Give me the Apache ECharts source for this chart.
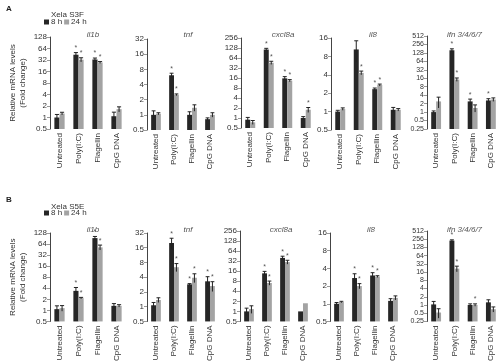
<!DOCTYPE html>
<html><head><meta charset="utf-8">
<script src="https://cdn.jsdelivr.net/npm/echarts@6/dist/echarts.min.js"></script>
<style>html,body{margin:0;padding:0;background:#fff}#c{width:500px;height:364px}</style>
</head><body><div id="c"></div>
<script>
// ---------- DATA ----------
const categories = ['Untreated', 'Poly(I:C)', 'Flagellin', 'CpG DNA'];
const genes = ['il1b', 'tnf', 'cxcl8a', 'il8', 'ifn 3/4/6/7'];
const yMin = [0.5, 0.5, 0.5, 0.5, 0.25];
const yMax = [128, 32, 256, 16, 512];
const seriesNames = ['8 h', '24 h'];
const rowTitles = ['Xela S3F', 'Xela S5E'];
const rowLetters = ['A', 'B'];

// Row A (Xela S3F): fold change, error, significance marks
const A_il1b_8h = [1.0, 44, 33, 1.08];    const A_il1b_24h = [1.27, 32.6, 27.6, 1.65];
const A_il1b_e8 = [0.2, 6, 3, 0.3];        const A_il1b_e24 = [0.1, 4, 1.5, 0.25];
const A_il1b_s8 = ['', '*', '*', ''];      const A_il1b_s24 = ['', '*', '*', ''];

const A_tnf_8h = [1.0, 6.1, 1.0, 0.82];   const A_tnf_24h = [1.05, 2.5, 1.38, 1.0];
const A_tnf_e8 = [0.2, 0.6, 0.15, 0.05];   const A_tnf_e24 = [0.05, 0.1, 0.2, 0.1];
const A_tnf_s8 = ['', '*', '', ''];        const A_tnf_s24 = ['', '*', '', ''];

const A_cxcl8a_8h = [0.89, 115, 15.6, 1.0]; const A_cxcl8a_24h = [0.74, 46, 13.3, 1.77];
const A_cxcl8a_e8 = [0.15, 10, 2, 0.1];      const A_cxcl8a_e24 = [0.1, 5, 1, 0.3];
const A_cxcl8a_s8 = ['', '*', '*', ''];      const A_cxcl8a_s24 = ['', '*', '*', '*'];

const A_il8_8h = [1.0, 10.4, 2.33, 1.07]; const A_il8_24h = [1.1, 4.3, 2.72, 1.07];
const A_il8_e8 = [0.05, 4, 0.1, 0.1];      const A_il8_e24 = [0.05, 0.3, 0.1, 0.05];
const A_il8_s8 = ['', '', '*', ''];        const A_il8_s24 = ['', '*', '*', ''];

const A_ifn_8h = [1.0, 159, 2.4, 2.6];    const A_ifn_24h = [2.4, 14.4, 1.4, 2.8];
const A_ifn_e8 = [0.1, 20, 0.5, 0.4];      const A_ifn_e24 = [1.0, 2, 0.4, 0.4];
const A_ifn_s8 = ['', '*', '*', '*'];      const A_ifn_s24 = ['', '*', '', ''];

// Row B (Xela S5E)
const B_il1b_8h = [1.08, 3.4, 93, 1.33];  const B_il1b_24h = [1.15, 2.16, 52, 1.33];
const B_il1b_e8 = [0.25, 0.8, 10, 0.2];    const B_il1b_e24 = [0.2, 0.1, 8, 0.1];
const B_il1b_s8 = ['', '*', '*', ''];      const B_il1b_s24 = ['', '*', '*', ''];

const B_tnf_8h = [1.07, 20, 2.86, 3.3];   const B_tnf_24h = [1.37, 6.4, 3.9, 2.64];
const B_tnf_e8 = [0.15, 5, 0.1, 0.8];      const B_tnf_e24 = [0.15, 1.2, 0.8, 0.6];
const B_tnf_s8 = ['', '*', '*', '*'];      const B_tnf_s24 = ['', '*', '*', '*'];

const B_cxcl8a_8h = [1.0, 13.8, 40, 1.0];  const B_cxcl8a_24h = [1.17, 7.1, 30, 1.75];
const B_cxcl8a_e8 = [0.25, 2, 5, 0];        const B_cxcl8a_e24 = [0.3, 1, 4, 0];
const B_cxcl8a_s8 = ['', '*', '*', ''];     const B_cxcl8a_s24 = ['', '*', '*', ''];

const B_il8_8h = [1.0, 2.74, 3.03, 1.12]; const B_il8_24h = [1.07, 2.0, 2.9, 1.26];
const B_il8_e8 = [0.05, 0.5, 0.35, 0.1];   const B_il8_e24 = [0.03, 0.2, 0.1, 0.1];
const B_il8_s8 = ['', '*', '*', ''];       const B_il8_s24 = ['', '*', '*', ''];

const B_ifn_8h = [1.05, 228, 1.0, 1.25];  const B_ifn_24h = [0.53, 21.4, 1.0, 0.7];
const B_ifn_e8 = [0.3, 15, 0.1, 0.3];      const B_ifn_e24 = [0.2, 5, 0.1, 0.15];
const B_ifn_s8 = ['', '*', '', ''];        const B_ifn_s24 = ['', '*', '*', ''];

const panels = [
  [[A_il1b_8h, A_il1b_24h, A_il1b_e8, A_il1b_e24, A_il1b_s8, A_il1b_s24],
   [A_tnf_8h, A_tnf_24h, A_tnf_e8, A_tnf_e24, A_tnf_s8, A_tnf_s24],
   [A_cxcl8a_8h, A_cxcl8a_24h, A_cxcl8a_e8, A_cxcl8a_e24, A_cxcl8a_s8, A_cxcl8a_s24],
   [A_il8_8h, A_il8_24h, A_il8_e8, A_il8_e24, A_il8_s8, A_il8_s24],
   [A_ifn_8h, A_ifn_24h, A_ifn_e8, A_ifn_e24, A_ifn_s8, A_ifn_s24]],
  [[B_il1b_8h, B_il1b_24h, B_il1b_e8, B_il1b_e24, B_il1b_s8, B_il1b_s24],
   [B_tnf_8h, B_tnf_24h, B_tnf_e8, B_tnf_e24, B_tnf_s8, B_tnf_s24],
   [B_cxcl8a_8h, B_cxcl8a_24h, B_cxcl8a_e8, B_cxcl8a_e24, B_cxcl8a_s8, B_cxcl8a_s24],
   [B_il8_8h, B_il8_24h, B_il8_e8, B_il8_e24, B_il8_s8, B_il8_s24],
   [B_ifn_8h, B_ifn_24h, B_ifn_e8, B_ifn_e24, B_ifn_s8, B_ifn_s24]]
];

// ---------- LAYOUT / STYLE ----------
const layout = [
  [{left:50,width:76,top:37,height:92},{left:147,width:72,top:39,height:91},{left:241,width:74,top:38,height:90},{left:331,width:74,top:38,height:92},{left:427,width:73,top:36,height:93}],
  [{left:50,width:76,top:233,height:89},{left:147,width:72,top:233,height:89},{left:240,width:72,top:231,height:92},{left:330,width:72,top:233,height:89},{left:427,width:73,top:231,height:91}]
];
const geneTitleTop = [26, 221];
const rowTitleTop = [6, 198];
const legendTop = [18, 209];
const letterTop = [0, 191];
const colors = ['#262626', '#a3a3a3'];
const FONT = 'Liberation Sans';
const L2 = Math.log2;

function fmt(v) {
  const x = Math.pow(2, v);
  return x >= 1 ? String(Math.round(x)) : String(+x.toFixed(2));
}

function makeRender(col, err, sig, lo, side) {
  return function (params, api) {
    const i = params.dataIndex;
    const c = api.value(0), v = api.value(1);
    const p = api.coord([c, v]);
    const b = api.coord([c, lo]);
    const band = api.coord([1, v])[0] - api.coord([0, v])[0];
    const bw = band * 0.27;
    const x0 = side < 0 ? p[0] - bw : p[0];
    const xc = x0 + bw / 2;
    const val = Math.pow(2, v);
    const e = err[i];
    const ch = [{type:'rect', shape:{x:x0, y:p[1], width:bw, height:b[1]-p[1]}, style:{fill:col}}];
    let topY = p[1];
    if (e > 0) {
      const yt = api.coord([c, L2(val + e)])[1];
      const yb = api.coord([c, Math.max(L2(Math.max(val - e, 1e-6)), lo)])[1];
      const cw = bw * 0.4;
      ch.push({type:'line', shape:{x1:xc, y1:yt, x2:xc, y2:yb}, style:{stroke:'#222', lineWidth:1}});
      ch.push({type:'line', shape:{x1:xc-cw, y1:yt, x2:xc+cw, y2:yt}, style:{stroke:'#222', lineWidth:1}});
      topY = yt;
    }
    if (sig[i]) {
      ch.push({type:'text', style:{text:sig[i], x:xc, y:topY - 1, align:'center', verticalAlign:'bottom', fontSize:7, fontFamily:FONT, fill:'#555'}});
    }
    return {type:'group', children:ch};
  };
}

const grid = [], xAxis = [], yAxis = [], series = [], title = [], legend = [];
let gi = 0;
for (let r = 0; r < 2; r++) {
  title.push({text:rowLetters[r], left:1, top:letterTop[r], textStyle:{fontSize:8, fontWeight:'bold', fontFamily:FONT, color:'#222'}});
  title.push({text:rowTitles[r], left:46, top:rowTitleTop[r], textStyle:{fontSize:8, fontWeight:'normal', fontFamily:FONT, color:'#333'}});
  legend.push({top:legendTop[r], left:44, itemWidth:5, itemHeight:5, itemGap:2, padding:0,
    textStyle:{fontSize:8, fontFamily:FONT, color:'#333', padding:[0,0,0,-3]},
    data:[{name:seriesNames[0], icon:'rect', itemStyle:{color:colors[0]}}, {name:seriesNames[1], icon:'rect', itemStyle:{color:colors[1]}}]});
  for (let g = 0; g < 5; g++) {
    const L = layout[r][g];
    const lo = L2(yMin[g]), hi = L2(yMax[g]);
    grid.push({left:L.left, top:L.top, width:L.width, height:L.height, containLabel:false});
    title.push({text:genes[g], left:L.left + L.width/2 + (g===4?-4:0), top:geneTitleTop[r], textAlign:'center',
      textStyle:{fontSize:8, fontStyle:'italic', fontWeight:'normal', fontFamily:FONT, color:'#555'}});
    xAxis.push({type:'category', gridIndex:gi, data:categories,
      axisLine:{show:false}, axisTick:{show:false},
      axisLabel:{rotate:90, interval:0, margin:4, fontSize:8, fontFamily:FONT, color:'#333'}});
    yAxis.push({type:'value', gridIndex:gi, min:lo, max:hi, interval:1,
      name: g === 0 ? 'Relative mRNA levels\n(Fold change)' : '',
      nameLocation:'middle', nameGap:22, nameRotate:90,
      nameTextStyle:{fontSize:8, fontFamily:FONT, color:'#333', lineHeight:10},
      splitLine:{show:false},
      axisLine:{show:true, lineStyle:{color:'#444', width:1}},
      axisTick:{show:true, length:3, lineStyle:{color:'#999'}},
      axisLabel:{formatter:fmt, fontSize: g===4 ? 7 : 8, margin:3, fontFamily:FONT, color:'#333'}});
    const P = panels[r][g];
    for (let s = 0; s < 2; s++) {
      const vals = P[s];
      series.push({type:'custom', name:seriesNames[s], xAxisIndex:gi, yAxisIndex:gi,
        itemStyle:{color:colors[s]}, silent:true, clip:false,
        data: vals.map((v, i) => [i, L2(v)]),
        encode:{x:0, y:1},
        renderItem: makeRender(colors[s], P[2+s], P[4+s], lo, s === 0 ? -1 : 1)});
    }
    gi++;
  }
}

const chart = echarts.init(document.getElementById('c'), null, {renderer:'canvas'});
chart.setOption({animation:false, backgroundColor:'#fff', title, legend, grid, xAxis, yAxis, series});
</script></body></html>
